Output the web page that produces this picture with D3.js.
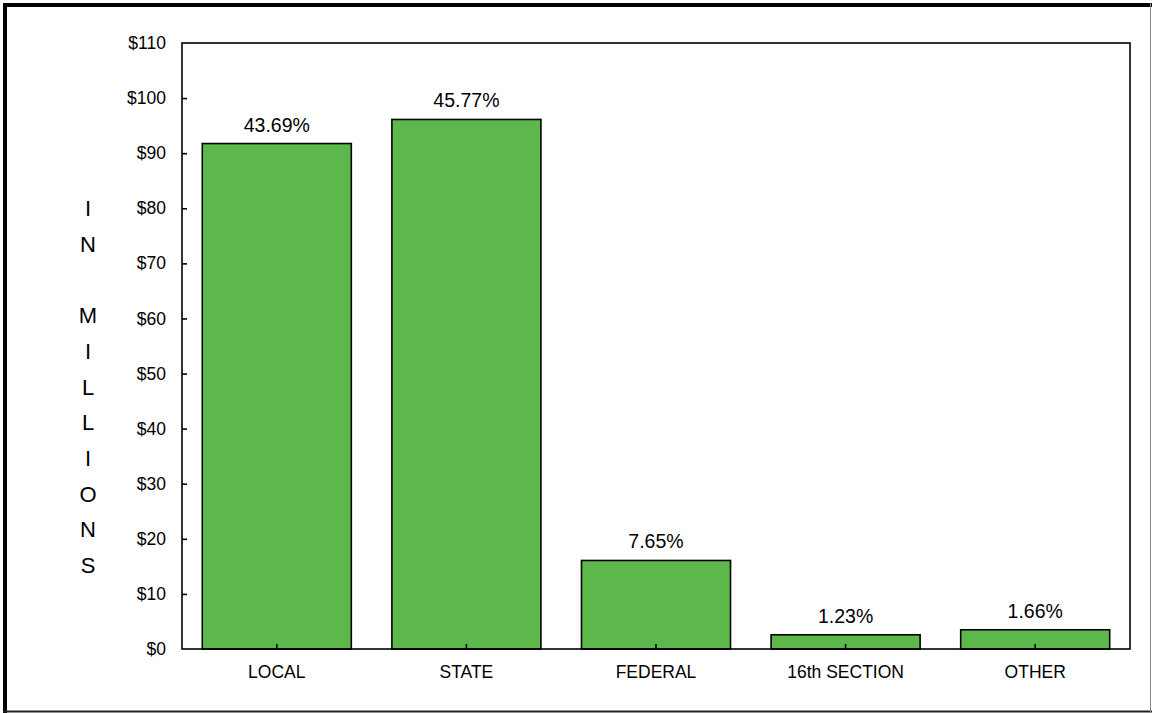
<!DOCTYPE html>
<html>
<head>
<meta charset="utf-8">
<script src="https://cdn.jsdelivr.net/npm/d3@7"></script>
<style>
  html, body { margin: 0; padding: 0; background: #fff; }
  svg { display: block; font-family: Arial, "Liberation Sans", sans-serif; }
</style>
</head>
<body>
<svg id="chart" width="1152" height="713"></svg>
<script>
// Revenue sources, in millions of dollars
const categories = ["LOCAL", "STATE", "FEDERAL", "16th SECTION", "OTHER"];
const amounts = [91.75, 96.12, 16.07, 2.58, 3.49];
const shareLabels = ["43.69%", "45.77%", "7.65%", "1.23%", "1.66%"];
const yTicks = [0, 10, 20, 30, 40, 50, 60, 70, 80, 90, 100, 110];
const axisTitleLines = ["I", "N", "", "M", "I", "L", "L", "I", "O", "N", "S"];

const svg = d3.select("#chart");
const W = 1152, H = 713;

// Outer frame: heavy top/left edges, light right/bottom edges
svg.append("rect").attr("x", 0).attr("y", 0).attr("width", W).attr("height", H).attr("fill", "#fff");
svg.append("line").attr("x1", 3).attr("x2", W).attr("y1", 5).attr("y2", 5).attr("stroke", "#000").attr("stroke-width", 4);
svg.append("line").attr("x1", 5).attr("x2", 5).attr("y1", 3).attr("y2", H).attr("stroke", "#000").attr("stroke-width", 4);
svg.append("line").attr("x1", 3).attr("x2", W).attr("y1", 711.5).attr("y2", 711.5).attr("stroke", "#222").attr("stroke-width", 2);
svg.append("line").attr("x1", 1150.5).attr("x2", 1150.5).attr("y1", 3).attr("y2", H).attr("stroke", "#888").attr("stroke-width", 1);

const plot = { left: 182, right: 1130, top: 43, bottom: 649 };

const x = d3.scaleBand()
  .domain(categories)
  .range([plot.left, plot.right])
  .paddingInner(0.214)
  .paddingOuter(0.107);

const y = d3.scaleLinear()
  .domain([0, 110])
  .range([plot.bottom, plot.top]);

// Bars
svg.append("g").selectAll("rect")
  .data(categories)
  .join("rect")
  .attr("x", d => x(d))
  .attr("y", (d, i) => y(amounts[i]))
  .attr("width", x.bandwidth())
  .attr("height", (d, i) => y(0) - y(amounts[i]))
  .attr("fill", "#5cb84a")
  .attr("stroke", "#000")
  .attr("stroke-width", 1.6);

// Plot frame
svg.append("rect")
  .attr("x", plot.left).attr("y", plot.top)
  .attr("width", plot.right - plot.left).attr("height", plot.bottom - plot.top)
  .attr("fill", "none").attr("stroke", "#000").attr("stroke-width", 1.6);

// Y axis with inward ticks
const yAxis = svg.append("g")
  .attr("transform", `translate(${plot.left},0)`)
  .call(d3.axisLeft(y).tickValues(yTicks).tickFormat(d => "$" + d).tickSizeInner(-5).tickSizeOuter(0).tickPadding(16));
yAxis.select(".domain").remove();
yAxis.selectAll(".tick line").attr("stroke", "#000").attr("stroke-width", 1.6)
  .filter(d => d === 110 || d === 0).remove();
yAxis.selectAll(".tick text").attr("font-size", 17.5).attr("fill", "#000")
  .attr("font-family", "Arial, 'Liberation Sans', sans-serif");

// X axis with inward ticks at category centres
const xAxis = svg.append("g")
  .attr("transform", `translate(0,${plot.bottom})`)
  .call(d3.axisBottom(x).tickSizeInner(-5).tickSizeOuter(0).tickPadding(17));
xAxis.select(".domain").remove();
xAxis.selectAll(".tick line").attr("stroke", "#000").attr("stroke-width", 1.6);
xAxis.selectAll(".tick text").attr("font-size", 17.5).attr("fill", "#000")
  .attr("font-family", "Arial, 'Liberation Sans', sans-serif");

// Share labels above bars
svg.append("g").selectAll("text")
  .data(categories)
  .join("text")
  .attr("x", d => x(d) + x.bandwidth() / 2)
  .attr("y", (d, i) => y(amounts[i]) - 12)
  .attr("text-anchor", "middle")
  .attr("font-size", 19.5)
  .attr("fill", "#000")
  .text((d, i) => shareLabels[i]);

// Vertical stacked axis title
svg.append("g").selectAll("text")
  .data(axisTitleLines)
  .join("text")
  .attr("x", 88)
  .attr("y", (d, i) => 216 + i * 35.7)
  .attr("text-anchor", "middle")
  .attr("font-size", 22)
  .attr("fill", "#000")
  .text(d => d);
</script>
</body>
</html>
